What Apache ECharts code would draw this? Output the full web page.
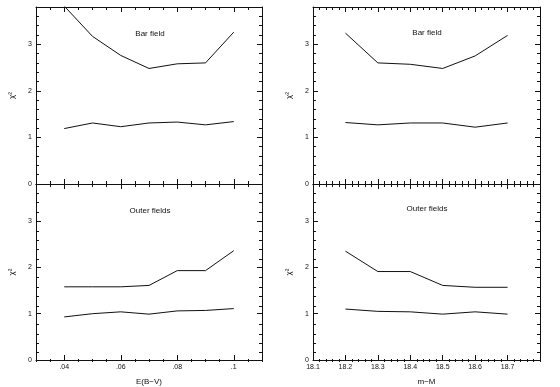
<!DOCTYPE html>
<html><head><meta charset="utf-8">
<script src="https://cdn.jsdelivr.net/npm/echarts@6/dist/echarts.min.js"></script>
<style>html,body{margin:0;padding:0;background:#fff}#c{width:560px;height:387px}</style>
</head><body><div id="c"></div><script>
// ---- data ----
const ebvX = [0.04, 0.05, 0.06, 0.07, 0.08, 0.09, 0.10];
const barEbvUpper = [3.82, 3.17, 2.76, 2.48, 2.58, 2.60, 3.26];
const barEbvLower = [1.19, 1.31, 1.23, 1.31, 1.33, 1.27, 1.34];
const outerEbvUpper = [1.58, 1.58, 1.58, 1.61, 1.93, 1.93, 2.36];
const outerEbvLower = [0.93, 1.00, 1.04, 0.99, 1.06, 1.07, 1.11];

const mmX = [18.2, 18.3, 18.4, 18.5, 18.6, 18.7];
const barMmUpper = [3.24, 2.60, 2.57, 2.48, 2.75, 3.19];
const barMmLower = [1.32, 1.27, 1.31, 1.31, 1.22, 1.31];
const outerMmUpper = [2.35, 1.91, 1.91, 1.61, 1.57, 1.57];
const outerMmLower = [1.10, 1.05, 1.04, 0.99, 1.04, 0.99];

const ebvTicks = [0.04, 0.06, 0.08, 0.10];
const ebvTickLabels = ['.04', '.06', '.08', '.1'];
const mmTicks = [18.1, 18.2, 18.3, 18.4, 18.5, 18.6, 18.7];
const mmTickLabels = ['18.1', '18.2', '18.3', '18.4', '18.5', '18.6', '18.7'];
const yTicks = [0, 1, 2, 3];
const yTickLabels = ['0', '1', '2', '3'];
const panelNames = ['Bar field', 'Outer fields'];
const xNames = ['E(B\u2212V)', 'm\u2212M'];
const yName = '\u03c7\u00b2';

// ---- helpers ----
function minorValues(min, max, step, majors) {
  const out = [];
  const n = Math.round((max - min) / step);
  for (let i = 0; i <= n; i++) {
    const v = Math.round((min + i * step) * 10000) / 10000;
    if (!majors.some(m => Math.abs(m - v) < 1e-6)) out.push(v);
  }
  return out;
}
function labelFor(ticks, labels) {
  return function (v) {
    for (let i = 0; i < ticks.length; i++) if (Math.abs(ticks[i] - v) < 1e-6) return labels[i];
    return '';
  };
}
const FONT = 'Liberation Sans, Arial, sans-serif';
const BLACK = '#111';

const panels = [
  { rect: {left: 36, top: 7, width: 226, height: 177}, xr: [0.03, 0.11], step: 0.005, maj: ebvTicks, lab: null,
    xs: ebvX, ys: [barEbvUpper, barEbvLower], name: panelNames[0], text: [150, 34] },
  { rect: {left: 36, top: 184, width: 226, height: 178}, xr: [0.03, 0.11], step: 0.005, maj: ebvTicks, lab: ebvTickLabels,
    xs: ebvX, ys: [outerEbvUpper, outerEbvLower], name: panelNames[1], text: [150, 211], xname: xNames[0] },
  { rect: {left: 313, top: 7, width: 227, height: 177}, xr: [18.1, 18.8], step: 0.02, maj: mmTicks, lab: null,
    xs: mmX, ys: [barMmUpper, barMmLower], name: panelNames[0], text: [427, 33] },
  { rect: {left: 313, top: 184, width: 227, height: 178}, xr: [18.1, 18.8], step: 0.02, maj: mmTicks, lab: mmTickLabels,
    xs: mmX, ys: [outerMmUpper, outerMmLower], name: panelNames[1], text: [427, 209], xname: xNames[1] }
];
const yMax = 3.8;
const yMinor = minorValues(0, yMax, 0.2, yTicks);

const grid = [], xAxis = [], yAxis = [], series = [], graphic = [];
panels.forEach((p, pi) => {
  const xMinor = minorValues(p.xr[0], p.xr[1], p.step, p.maj);
  for (let layer = 0; layer < 2; layer++) {
    const gi = grid.length;
    grid.push(Object.assign({containLabel: false}, p.rect));
    const major = layer === 0;
    ['bottom', 'top'].forEach(pos => {
      const showLab = major && pos === 'bottom' && p.lab;
      const ax = {
        type: 'value', gridIndex: gi, position: pos, min: p.xr[0], max: p.xr[1],
        splitLine: {show: false},
        axisLine: {show: major, onZero: false, lineStyle: {color: BLACK, width: 1}},
        axisTick: {show: true, inside: true, length: major ? 5 : 3,
          customValues: major ? p.maj : xMinor, lineStyle: {color: BLACK, width: 1}},
        axisLabel: {show: !!showLab, margin: 4, fontSize: 7, color: BLACK, fontFamily: FONT,
          customValues: p.maj, formatter: p.lab ? labelFor(p.maj, p.lab) : ''}
      };
      if (showLab && p.xname) {
        Object.assign(ax, {name: p.xname, nameLocation: 'middle', nameGap: 18,
          nameTextStyle: {fontSize: 8, color: BLACK, fontFamily: FONT}});
      }
      xAxis.push(ax);
    });
    ['left', 'right'].forEach(pos => {
      const showLab = major && pos === 'left';
      const ax = {
        type: 'value', gridIndex: gi, position: pos, min: 0, max: yMax,
        splitLine: {show: false},
        axisLine: {show: major, onZero: false, lineStyle: {color: BLACK, width: 1}},
        axisTick: {show: true, inside: true, length: major ? 5 : 3,
          customValues: major ? yTicks : yMinor, lineStyle: {color: BLACK, width: 1}},
        axisLabel: {show: showLab, margin: 4, fontSize: 7, color: BLACK, fontFamily: FONT,
          customValues: yTicks, formatter: labelFor(yTicks, yTickLabels)}
      };
      if (showLab) {
        Object.assign(ax, {name: yName, nameLocation: 'middle', nameGap: 20, nameRotate: 90,
          nameTextStyle: {fontSize: 8, color: BLACK, fontFamily: FONT}});
      }
      yAxis.push(ax);
    });
    if (major) {
      const xi = xAxis.length - 2, yi = yAxis.length - 2;
      p.ys.forEach(arr => {
        series.push({
          type: 'line', xAxisIndex: xi, yAxisIndex: yi, symbol: 'none', clip: true,
          lineStyle: {color: BLACK, width: 1}, silent: true,
          data: p.xs.map((x, i) => [x, arr[i]])
        });
      });
    }
  }
  graphic.push({type: 'text', x: p.text[0], y: p.text[1],
    style: {text: p.name, fill: BLACK, font: '8px ' + FONT, textAlign: 'center', textVerticalAlign: 'middle'}});
});

const chart = echarts.init(document.getElementById('c'), null, {renderer: 'canvas'});
chart.setOption({animation: false, backgroundColor: '#fff', grid, xAxis, yAxis, series, graphic});
</script></body></html>
